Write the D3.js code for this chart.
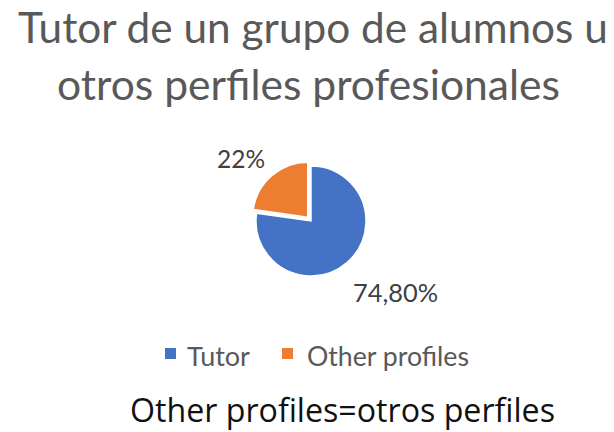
<!DOCTYPE html>
<html>
<head>
<meta charset="utf-8">
<script src="https://cdn.jsdelivr.net/npm/d3@7"></script>
<style>
  html, body { margin: 0; padding: 0; background: #fff; }
  svg { display: block; }
</style>
</head>
<body>
<svg id="chart" width="614" height="432"></svg>
<script>
// ---- data ----
const categories = ["Tutor", "Other profiles"];
const values = [74.8, 22];
const valueLabels = ["74,80%", "22%"];
const colors = ["#4472C4", "#ED7D31"];
const titleLines = ["Tutor de un grupo de alumnos u", "otros perfiles profesionales"];
const footnote = "Other profiles=otros perfiles";

const svg = d3.select("#chart");
const W = 614, H = 432;

// fit text to a target width by adjusting font-size
function fit(sel, target) {
  const node = sel.node();
  const fs = parseFloat(sel.attr("font-size"));
  const w = node.getComputedTextLength();
  if (w > 0) sel.attr("font-size", (fs * target / w).toFixed(2));
  return sel;
}

// ---- title ----
const titleFont = "Lato, 'Open Sans', sans-serif";
const t1 = svg.append("text").attr("x", 18).attr("y", 43)
  .attr("font-family", titleFont).attr("font-size", 40).attr("fill", "#595959")
  .text(titleLines[0]);
fit(t1, 590);
const t2 = svg.append("text").attr("x", 57).attr("y", 100)
  .attr("font-family", titleFont).attr("font-size", 40).attr("fill", "#595959")
  .text(titleLines[1]);
fit(t2, 503);

// ---- pie ----
const cx = 311, cy = 221, r = 55;
const pie = d3.pie().sort(null).value(d => d);
const arcs = pie(values);
const arc = d3.arc().innerRadius(0).outerRadius(r);
const explode = [0, 5];

const g = svg.append("g").attr("transform", `translate(${cx},${cy})`);
g.selectAll("path").data(arcs).join("path")
  .attr("d", arc)
  .attr("fill", (d, i) => colors[i])
  .attr("stroke", "#fff")
  .attr("stroke-width", 1.5)
  .attr("transform", (d, i) => {
    const a = (d.startAngle + d.endAngle) / 2;
    return `translate(${Math.sin(a) * explode[i]},${-Math.cos(a) * explode[i]})`;
  });

// ---- data labels ----
const labelFont = "Lato, 'Open Sans', sans-serif";
const l1 = svg.append("text").attr("x", 353).attr("y", 302)
  .attr("font-family", labelFont).attr("font-size", 26).attr("fill", "#404040")
  .text(valueLabels[0]);
fit(l1, 85);
const l2 = svg.append("text").attr("x", 217).attr("y", 168)
  .attr("font-family", labelFont).attr("font-size", 26).attr("fill", "#404040")
  .text(valueLabels[1]);
fit(l2, 48);

// ---- legend ----
const legendItems = [
  { sx: 165, tx: 187, w: 63 },
  { sx: 282, tx: 307, w: 162 }
];
categories.forEach((c, i) => {
  svg.append("rect").attr("x", legendItems[i].sx).attr("y", 348)
    .attr("width", 11).attr("height", 11).attr("fill", colors[i]);
  const t = svg.append("text").attr("x", legendItems[i].tx).attr("y", 366)
    .attr("font-family", labelFont).attr("font-size", 24).attr("fill", "#595959")
    .text(c);
  fit(t, legendItems[i].w);
});

// ---- footnote ----
const fn = svg.append("text").attr("x", 130).attr("y", 422)
  .attr("font-family", "'Open Sans', Lato, sans-serif").attr("font-size", 26).attr("fill", "#111")
  .text(footnote);
fit(fn, 425);
</script>
</body>
</html>
